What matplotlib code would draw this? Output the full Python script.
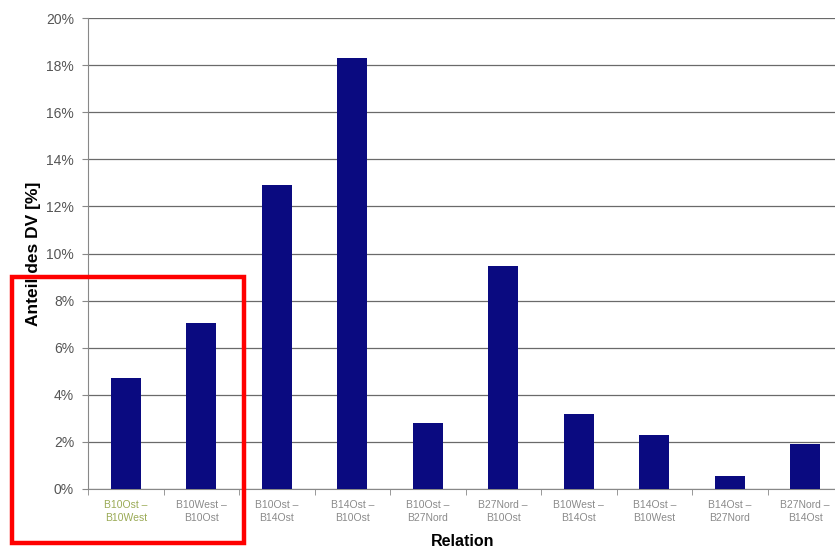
#!/usr/bin/env python3

import matplotlib
matplotlib.use('Agg')
import matplotlib.pyplot as plt
from matplotlib.patches import Rectangle
from matplotlib.ticker import FuncFormatter, MultipleLocator

# ------------------------------------------
# Data
# ------------------------------------------
relations = ['B10Ost –\nB10West', 'B10West –\nB10Ost', 'B10Ost –\nB14Ost',
             'B14Ost –\nB10Ost', 'B10Ost –\nB27Nord', 'B27Nord –\nB10Ost',
             'B10West –\nB14Ost', 'B14Ost –\nB10West', 'B14Ost –\nB27Nord',
             'B27Nord –\nB14Ost']
shares = [4.7, 7.05, 12.9, 18.3, 2.8, 9.47, 3.18, 2.3, 0.55, 1.91]


def main():
    plt.rcParams['font.family'] = ['Liberation Sans', 'DejaVu Sans']

    W, H = 835, 549
    fig = plt.figure(figsize=(W / 100, H / 100), dpi=100)
    # axes run slightly past the right edge, as in the reference
    ax = fig.add_axes([88 / W, 60 / H, 755 / W, 471 / H])

    x = list(range(len(shares)))
    ax.bar(x, shares, width=0.4, color='#0a0a80', zorder=3)

    ax.set_xlim(-0.5, len(shares) - 0.5)
    ax.set_ylim(0, 20)
    ax.yaxis.set_major_locator(MultipleLocator(2))
    ax.yaxis.set_major_formatter(FuncFormatter(lambda v, p: '%d%%' % v))
    ax.grid(axis='y', color='#6a6a6a', linewidth=0.9, zorder=0)

    ax.set_xticks(x)
    ax.set_xticklabels(relations, fontsize=7.5, color='#8a8a8a',
                       linespacing=1.3)
    ax.xaxis.set_minor_locator(MultipleLocator(1, offset=0.5))
    ax.tick_params(axis='x', which='major', length=0, pad=8)
    ax.tick_params(axis='x', which='minor', length=4, color='#888888')
    ax.tick_params(axis='y', length=4, color='#888888', labelsize=10,
                   labelcolor='#555555', pad=6)
    ax.get_xticklabels()[0].set_color('#9aaa55')

    for side in ['top', 'right']:
        ax.spines[side].set_visible(False)
    for side in ['left', 'bottom']:
        ax.spines[side].set_color('#888888')

    # Axis titles
    fig.text(34 / W, 1 - 254 / H, 'Anteil des DV [%]', rotation=90,
             ha='center', va='center', fontsize=12.5, fontweight='bold')
    fig.text(463 / W, 1 - 541 / H, 'Relation', ha='center', va='center',
             fontsize=11.5, fontweight='bold')

    # Red highlight box
    box = Rectangle((12 / W, 1 - 543 / H), 232 / W, 266 / H,
                    transform=fig.transFigure, fill=False,
                    edgecolor='#ff0000', linewidth=3.2, zorder=10)
    fig.patches.append(box)

    fig.savefig('out.png', dpi=100)


if __name__ == "__main__":
    main()
